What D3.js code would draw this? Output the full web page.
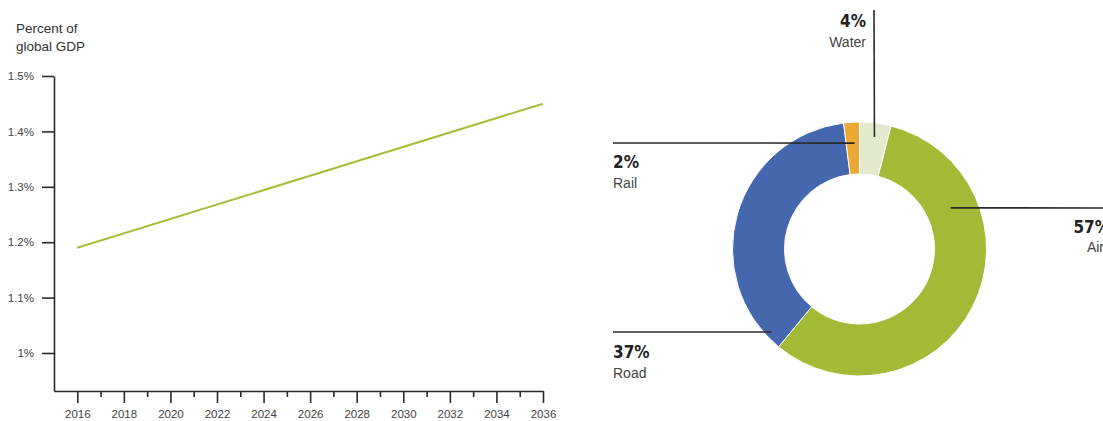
<!DOCTYPE html>
<html>
<head>
<meta charset="utf-8">
<script src="https://cdn.jsdelivr.net/npm/d3@7"></script>
<style>
  body { margin: 0; background: #fff; }
  svg { display: block; font-family: "Liberation Sans", Arial, sans-serif; }
</style>
</head>
<body>
<svg id="chart" width="1103" height="421"></svg>
<script>
// left panel: share of global GDP
const years = [2016, 2036];
const gdpShare = [1.19, 1.45];
const yTickValues = [1.0, 1.1, 1.2, 1.3, 1.4, 1.5];
const yTickLabels = ["1%", "1.1%", "1.2%", "1.3%", "1.4%", "1.5%"];
const xTickYears = [2016, 2018, 2020, 2022, 2024, 2026, 2028, 2030, 2032, 2034, 2036];
const xMinorYears = [2017, 2019, 2021, 2023, 2025, 2027, 2029, 2031, 2033, 2035];

// right panel: split by mode
const modes = ["Water", "Air", "Road", "Rail"];
const modeShares = [4, 57, 37, 2];
const modeColors = ["#e3eacd", "#a2ba35", "#4567ad", "#eba934"];

const svg = d3.select("#chart");
const ink = "#2a2a2a";

// ---------- line chart ----------
const x = d3.scaleLinear().domain([2015, 2036]).range([54, 543]);
const y = d3.scaleLinear().domain([0.9314, 1.5]).range([391, 76]);

svg.append("text").attr("x", 16).attr("y", 33)
    .attr("font-size", 13.5).attr("fill", "#333").text("Percent of");
svg.append("text").attr("x", 16).attr("y", 51)
    .attr("font-size", 13.5).attr("fill", "#333").text("global GDP");

svg.append("g")
    .attr("transform", "translate(54,0)")
    .call(d3.axisLeft(y).tickValues(yTickValues)
        .tickFormat((d, i) => yTickLabels[i]).tickSize(12).tickSizeOuter(0).tickPadding(8));

svg.append("g")
    .attr("transform", "translate(0,391)")
    .call(d3.axisBottom(x).tickValues(xTickYears).tickFormat(d3.format("d"))
        .tickSize(12).tickSizeOuter(0).tickPadding(7));

svg.append("g")
    .attr("transform", "translate(0,391)")
    .call(d3.axisBottom(x).tickValues(xMinorYears).tickFormat("").tickSize(6).tickSizeOuter(0))
    .call(g => g.select(".domain").remove());

svg.selectAll(".domain").attr("stroke", ink).attr("stroke-width", 1.6);
svg.selectAll(".tick line").attr("stroke", ink).attr("stroke-width", 1.6);
svg.selectAll(".tick text").attr("font-family", "\"Liberation Sans\", sans-serif")
    .attr("font-size", 11.5).attr("fill", "#444");

const line = d3.line().x((d, i) => x(years[i])).y(d => y(d));
svg.append("path")
    .datum(gdpShare)
    .attr("d", line)
    .attr("fill", "none")
    .attr("stroke", "#a3bf3b")
    .attr("stroke-width", 2);

// ---------- donut ----------
const cx = 859.5, cy = 249;
const outerR = 127, innerR = 75;

const pie = d3.pie().sort(null).value(d => d);
const arcs = pie(modeShares);
const arc = d3.arc().innerRadius(innerR).outerRadius(outerR);

const donut = svg.append("g").attr("transform", `translate(${cx},${cy})`);
donut.selectAll("path")
    .data(arcs)
    .join("path")
    .attr("d", arc)
    .attr("fill", (d, i) => modeColors[i])
    .attr("stroke", "#fff")
    .attr("stroke-width", 1);

// leader lines: anchor on the ring (angle in degrees, radius), then out to the label
const callouts = [
    { i: 0, angle: 7.6, r: 113, end: [874, 10], tx: 866, ty: 27, ny: 47, anchor: "end" },
    { i: 1, angle: 65.7, r: 100, end: [1110, 208], tx: 1110, ty: 233, ny: 252, anchor: "end" },
    { i: 2, angle: 226.7, r: 121, end: [613, 332], tx: 613, ty: 358, ny: 378, anchor: "start" },
    { i: 3, angle: 357.3, r: 106, end: [613, 143], tx: 613, ty: 168, ny: 188, anchor: "start" }
];

callouts.forEach(c => {
    const p = d3.pointRadial(c.angle * Math.PI / 180, c.r);
    svg.append("line")
        .attr("x1", cx + p[0]).attr("y1", cy + p[1])
        .attr("x2", c.end[0]).attr("y2", c.end[1])
        .attr("stroke", ink).attr("stroke-width", 1.6);
    svg.append("text")
        .attr("x", c.tx).attr("y", c.ty)
        .attr("text-anchor", c.anchor)
        .attr("font-family", "\"DejaVu Sans Condensed\", sans-serif")
        .attr("font-weight", "bold").attr("font-size", 17).attr("fill", "#222")
        .text(modeShares[c.i] + "%");
    svg.append("text")
        .attr("x", c.i === 1 ? 1104 : c.tx).attr("y", c.ny)
        .attr("text-anchor", c.anchor)
        .attr("font-size", 14).attr("fill", "#444")
        .text(modes[c.i]);
});
</script>
</body>
</html>
